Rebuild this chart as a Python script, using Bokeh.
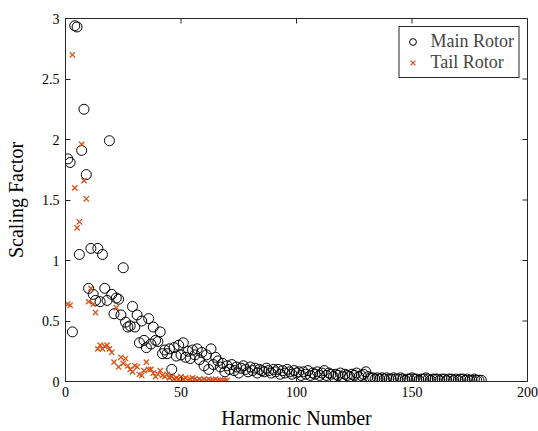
from bokeh.plotting import figure
from bokeh.models import FixedTicker, Range1d, Legend, LegendItem, ColumnDataSource
from bokeh.embed import file_html
from bokeh.resources import INLINE

main_h = list(range(1, 181))
main_v = [
    1.84, 1.81, 0.41, 2.94, 2.93, 1.05, 1.91, 2.25, 1.71, 0.77,
    1.10, 0.72, 0.67, 1.10, 0.66, 1.05, 0.77, 0.67, 1.99, 0.72,
    0.56, 0.69, 0.68, 0.55, 0.94, 0.49, 0.45, 0.46, 0.62, 0.45,
    0.55, 0.32, 0.50, 0.34, 0.28, 0.52, 0.31, 0.45, 0.34, 0.33,
    0.41, 0.23, 0.26, 0.23, 0.27, 0.10, 0.28, 0.21, 0.30, 0.22,
    0.32, 0.20, 0.25, 0.19, 0.26, 0.22, 0.27, 0.18, 0.24, 0.13,
    0.22, 0.10, 0.27, 0.14, 0.20, 0.17, 0.12, 0.15, 0.08, 0.13,
    0.10, 0.14, 0.09, 0.12, 0.07, 0.11, 0.13, 0.10, 0.08, 0.12,
    0.09, 0.11, 0.07, 0.10, 0.09, 0.08, 0.11, 0.09, 0.07, 0.10,
    0.08, 0.10, 0.06, 0.09, 0.07, 0.10, 0.08, 0.06, 0.09, 0.07,
    0.08, 0.05, 0.08, 0.06, 0.09, 0.05, 0.07, 0.06, 0.08, 0.05,
    0.07, 0.09, 0.05, 0.07, 0.06, 0.04, 0.06, 0.05, 0.07, 0.04,
    0.06, 0.05, 0.04, 0.06, 0.05, 0.07, 0.04, 0.05, 0.06, 0.08,
    0.04, 0.03, 0.03, 0.02, 0.03, 0.02, 0.03, 0.02, 0.03, 0.02,
    0.02, 0.03, 0.02, 0.02, 0.03, 0.02, 0.01, 0.02, 0.02, 0.03,
    0.02, 0.02, 0.01, 0.02, 0.02, 0.03, 0.02, 0.01, 0.02, 0.02,
    0.02, 0.01, 0.02, 0.02, 0.01, 0.02, 0.02, 0.01, 0.02, 0.01,
    0.02, 0.02, 0.01, 0.02, 0.01, 0.01, 0.02, 0.01, 0.01, 0.01,
]

tail_h = list(range(1, 71))
tail_v = [
    0.64, 0.63, 2.70, 1.60, 1.27, 1.32, 1.96, 1.66, 1.51, 0.66,
    0.77, 0.64, 0.57, 0.27, 0.30, 0.27, 0.29, 0.30, 0.27, 0.24,
    0.16, 0.61, 0.12, 0.20, 0.15, 0.19, 0.13, 0.10, 0.08, 0.13,
    0.12, 0.06, 0.05, 0.09, 0.16, 0.10, 0.10, 0.07, 0.04, 0.06,
    0.09, 0.05, 0.04, 0.06, 0.03, 0.04, 0.02, 0.03, 0.02, 0.04,
    0.02, 0.03, 0.01, 0.02, 0.03, 0.02, 0.01, 0.02, 0.01, 0.02,
    0.01, 0.02, 0.01, 0.01, 0.02, 0.01, 0.01, 0.01, 0.01, 0.01,
]

x_ticks = [0, 50, 100, 150, 200]
y_ticks = [0, 0.5, 1, 1.5, 2, 2.5, 3]
y_tick_labels = ["0", "0.5", "1", "1.5", "2", "2.5", "3"]

FONT = "Liberation Serif"
AX = "#262626"
X0, X1, Y0, Y1 = 0, 200, 0, 3
W, H = 538, 431
BL, BR, BT, BB = 65, 11, 18, 50

p = figure(width=W, height=H, output_backend="svg", toolbar_location=None,
           x_range=Range1d(X0, X1), y_range=Range1d(Y0, Y1),
           min_border_left=BL, min_border_right=BR, min_border_top=BT, min_border_bottom=BB)
p.grid.visible = False
p.outline_line_color = AX
p.background_fill_color = "white"

src_m = ColumnDataSource(dict(x=main_h, y=main_v))
src_t = ColumnDataSource(dict(x=tail_h, y=tail_v))
r_m = p.scatter("x", "y", source=src_m, marker="circle", size=10, fill_color=None,
                line_color="black", line_width=1)
r_t = p.scatter("x", "y", source=src_t, marker="x", size=7.5, line_color="#D95319", line_width=1.3)

# inward ticks on the top and right edges of the box (5px long)
frame_w = W - BL - BR
frame_h = H - BT - BB
tx = 5 * (X1 - X0) / frame_w
ty = 5 * (Y1 - Y0) / frame_h
p.segment(x0=x_ticks, x1=x_ticks, y0=[Y1] * len(x_ticks), y1=[Y1 - ty] * len(x_ticks),
          line_color=AX, line_width=1)
p.segment(x0=[X1] * len(y_ticks), x1=[X1 - tx] * len(y_ticks), y0=y_ticks, y1=y_ticks,
          line_color=AX, line_width=1)

def style(ax):
    ax.major_tick_in = 5
    ax.major_tick_out = 0
    ax.minor_tick_line_color = None
    ax.axis_line_color = AX
    ax.major_tick_line_color = AX
    ax.major_label_text_font = FONT
    ax.major_label_text_font_size = "14px"
    ax.major_label_text_color = "black"
    ax.axis_label_text_font = FONT
    ax.axis_label_text_font_size = "20px"
    ax.axis_label_text_font_style = "normal"
    ax.axis_label_text_color = "black"

xa = p.xaxis[0]
xa.ticker = FixedTicker(ticks=x_ticks)
xa.axis_label = "Harmonic Number"
style(xa)
xa.major_label_standoff = 5
xa.axis_label_standoff = 7

ya = p.yaxis[0]
ya.ticker = FixedTicker(ticks=y_ticks)
ya.major_label_overrides = {t: l for t, l in zip(y_ticks, y_tick_labels)}
ya.axis_label = "Scaling Factor"
style(ya)
ya.major_label_standoff = 6
ya.axis_label_standoff = 12

legend = Legend(items=[LegendItem(label="Main Rotor", renderers=[r_m]),
                       LegendItem(label="Tail Rotor", renderers=[r_t])],
                location="top_right")
legend.label_text_font = FONT
legend.label_text_font_size = "18px"
legend.border_line_color = AX
legend.border_line_width = 1
legend.border_line_alpha = 1.0
legend.background_fill_color = "white"
legend.background_fill_alpha = 1.0
legend.margin = 8
legend.padding = 4
legend.spacing = 0
legend.glyph_width = 18
legend.label_height = 17
legend.glyph_height = 17
legend.label_standoff = 9
p.add_layout(legend)

open("out.html", "w").write(file_html(p, INLINE))
